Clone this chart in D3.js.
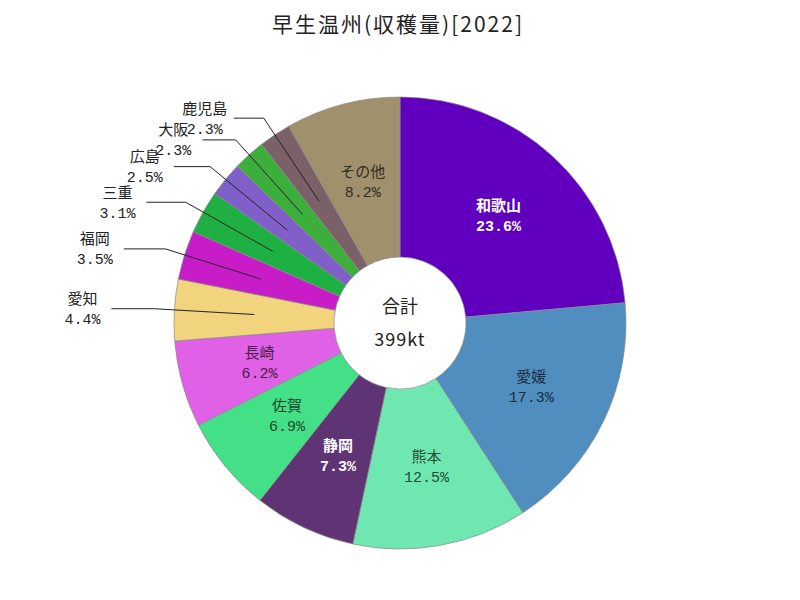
<!DOCTYPE html>
<html><head><meta charset="utf-8">
<script src="https://cdn.jsdelivr.net/npm/d3@7"></script>
<style>body{margin:0;background:#fff}</style>
</head><body>
<svg id="chart" width="800" height="600"></svg>
<script>
const title = "早生温州(収穫量)[2022]";
const categories = ["和歌山","愛媛","熊本","静岡","佐賀","長崎","愛知","福岡","三重","広島","大阪","鹿児島","その他"];
const shares = [23.6,17.3,12.5,7.3,6.9,6.2,4.4,3.5,3.1,2.5,2.3,2.3,8.2];
const colors = ["#6000BE","#508EC0","#6EE8B0","#5E3474","#44E088","#E060E6","#F2D47E","#C81CC8","#1EB042","#8060C8","#3CAE3C","#7C6068","#A0906C"];
const outsideLabels = ["愛知","福岡","三重","広島","大阪","鹿児島"];
const whiteLabels = ["和歌山","静岡"];
const totalLabel = ["合計","399kt"];

const svg = d3.select("#chart");
const cx = 400, cy = 323, rOuter = 226, rInner = 66;
const jp = "'Noto Sans CJK JP', sans-serif";
const mono = "'Liberation Mono', 'Noto Sans CJK JP', monospace";

svg.append("text").attr("x", 398).attr("y", 32).attr("text-anchor","middle")
  .attr("font-family", jp).attr("font-size", 21).attr("letter-spacing", 2).attr("fill","#222").text(title);

const data = categories.map((c,i)=>({name:c, value:shares[i], color:colors[i]}));
const pie = d3.pie().value(d=>d.value).sort(null);
const arcs = pie(data);
const arc = d3.arc().innerRadius(rInner).outerRadius(rOuter);
const g = svg.append("g").attr("transform", `translate(${cx},${cy})`);

g.selectAll("path.slice").data(arcs).enter().append("path")
  .attr("class","slice").attr("d", arc)
  .attr("fill", d=>d.data.color).attr("stroke","#8a8a8a").attr("stroke-width",0.7);

function pt(a, r){ return [r*Math.sin(a), -r*Math.cos(a)]; }

arcs.forEach(d=>{
  const mid = (d.startAngle+d.endAngle)/2;
  const rc = (rInner+rOuter)/2;
  const [x0,y0] = pt(mid, rc);
  const name = d.data.name;
  const pct = d.data.value.toFixed(1)+"%";
  if (outsideLabels.includes(name)) {
    const [x1,y1] = pt(mid, rOuter+20);
    const L = 14 + 29*Math.abs(Math.sin(mid));
    const x2 = x1 - L;
    g.append("polyline").attr("points", `${x0},${y0} ${x1},${y1} ${x2},${y1}`)
      .attr("fill","none").attr("stroke","#222").attr("stroke-width",1);
    const tx = x2 - 29;
    g.append("text").attr("x", tx).attr("y", y1-11).attr("text-anchor","middle").attr("dominant-baseline","central")
      .attr("font-family", jp).attr("font-size",15).attr("fill","#222").text(name);
    g.append("text").attr("x", tx).attr("y", y1+12).attr("text-anchor","middle").attr("dominant-baseline","central")
      .attr("font-family", mono).attr("font-size",15).attr("fill","#222").text(pct);
  } else {
    const white = whiteLabels.includes(name);
    const fill = white ? "#ffffff" : d3.color(d.data.color).darker(3.2).formatHex();
    g.append("text").attr("x", x0).attr("y", y0-11).attr("text-anchor","middle").attr("dominant-baseline","central")
      .attr("font-family", jp).attr("font-size",15).attr("font-weight", white?"bold":"normal").attr("fill",fill).text(name);
    g.append("text").attr("x", x0).attr("y", y0+12).attr("text-anchor","middle").attr("dominant-baseline","central")
      .attr("font-family", mono).attr("font-size",15).attr("font-weight", white?"bold":"normal").attr("fill",fill).text(pct);
  }
});

g.append("text").attr("x",0).attr("y",-18).attr("text-anchor","middle").attr("dominant-baseline","central")
  .attr("font-family", jp).attr("font-size",18).attr("fill","#222").text(totalLabel[0]);
g.append("text").attr("x",0).attr("y",15).attr("text-anchor","middle").attr("dominant-baseline","central")
  .attr("font-family", jp).attr("font-size",18).attr("letter-spacing",1).attr("fill","#222").text(totalLabel[1]);
</script>
</body></html>
